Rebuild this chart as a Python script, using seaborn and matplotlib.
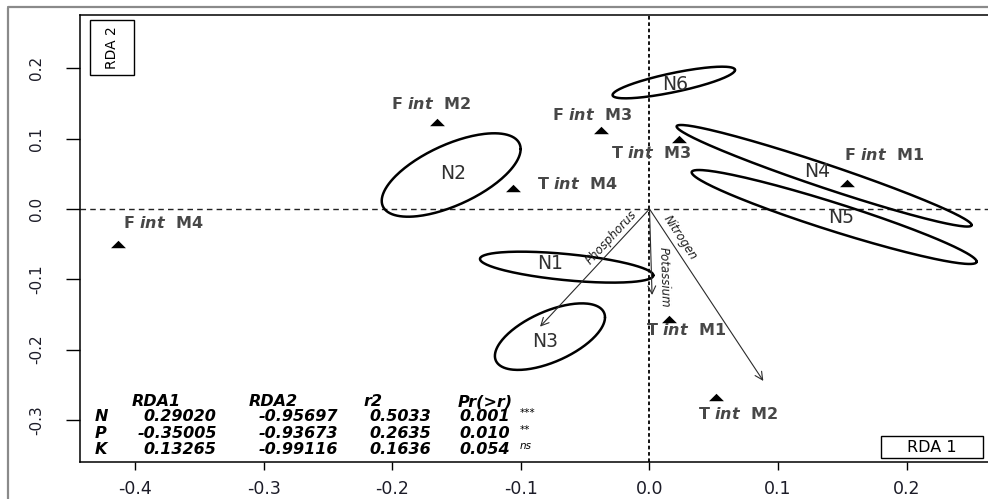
import numpy as np
import matplotlib
matplotlib.use("Agg")
import matplotlib.pyplot as plt
import seaborn as sns
import pandas as pd
from matplotlib.lines import Line2D
from matplotlib.patches import Rectangle

# ---- site scores (triangles) ----
site_factor = ["F", "F", "F", "F", "T", "T", "T", "T"]
site_month = ["M1", "M2", "M3", "M4", "M1", "M2", "M3", "M4"]
site_rda1 = [0.1538, -0.1650, -0.0379, -0.4130, 0.0154, 0.0517, 0.0229, -0.1064]
site_rda2 = [0.0374, 0.1241, 0.1123, -0.0498, -0.1564, -0.2668, 0.0991, 0.0303]

# ---- group ellipses (centre, half-extent on each axis, correlation) ----
groups = ["N1", "N2", "N3", "N4", "N5", "N6"]
ell_cx = [-0.0644, -0.1542, -0.0774, 0.1358, 0.1436, 0.0189]
ell_cy = [-0.0827, 0.0483, -0.1815, 0.0472, -0.0114, 0.1798]
ell_sx = [0.0674, 0.0540, 0.0428, 0.1147, 0.1108, 0.0476]
ell_sy = [0.0220, 0.0593, 0.0473, 0.0722, 0.0668, 0.0225]
ell_r = [-0.53, 0.62, 0.58, -0.97, -0.95, 0.79]

# ---- fitted environmental vectors ----
env_vars = ["Nitrogen", "Phosphorus", "Potassium"]
arrow_x = [0.0885, -0.0851, 0.0020]
arrow_y = [-0.2445, -0.1673, -0.1223]

# ---- envfit table ----
env_short = ["N", "P", "K"]
tab_rda1 = [0.29020, -0.35005, 0.13265]
tab_rda2 = [-0.95697, -0.93673, -0.99116]
tab_r2 = [0.5033, 0.2635, 0.1636]
tab_p = [0.001, 0.010, 0.054]
tab_sig = ["***", "**", "ns"]

x_ticks = [-0.4, -0.3, -0.2, -0.1, 0.0, 0.1, 0.2]
y_ticks = [-0.3, -0.2, -0.1, 0.0, 0.1, 0.2]

# label placement (pixels)
site_label_off = [(37, 28), (-6, 18), (-9, 15), (45, 21), (17, -11), (22, -17), (-28, -14), (65, 4)]
group_label_off = [(-17, 4), (2, 2), (-5, -5), (-7, 4), (7, -1), (1, -2)]
env_label_pos = [(0.166, (12, 0)), (0.242, (-12, 0)), (0.797, (13, 0))]

sns.set_style("ticks")
plt.rcParams["font.family"] = ["DejaVu Sans"]
plt.rcParams["mathtext.fontset"] = "dejavusans"
plt.rcParams["axes.unicode_minus"] = False

fig = plt.figure(figsize=(9.88, 4.99), dpi=100)
W, H = 988.0, 499.0
ax = fig.add_axes([80 / W, 1 - 461.7 / H, 908 / W, 447 / H])

# site triangles
sites = pd.DataFrame({"RDA1": site_rda1, "RDA2": site_rda2})
tri = [(-1, -0.5), (1, -0.5), (0, 0.5)]
sns.scatterplot(data=sites, x="RDA1", y="RDA2", marker=tri, s=115, color="black",
                edgecolor="black", linewidth=0, ax=ax, zorder=4)

ax.set_xlim(-0.4428, 0.2632)
ax.set_ylim(-0.3593, 0.2762)
ax.set_xlabel("")
ax.set_ylabel("")

for s in ["left", "bottom", "top"]:
    ax.spines[s].set_color("black")
    ax.spines[s].set_linewidth(1.1)
ax.spines["right"].set_visible(False)

ax.set_xticks(x_ticks)
ax.set_xticklabels([f"{v:.1f}" for v in x_ticks])
ax.set_yticks(y_ticks)
ax.set_yticklabels([f"{v:.1f}" for v in y_ticks])
ax.tick_params(axis="x", length=6, width=1, pad=7, labelsize=12.5, colors="black", labelcolor="#1c1c28")
ax.tick_params(axis="y", length=10, width=1, pad=16, labelsize=11, colors="black", labelcolor="#1c1c28")
for lab in ax.get_yticklabels():
    lab.set_rotation(90)
    lab.set_va("center")

# origin cross-hairs
ax.axhline(0, color="#222222", lw=1.0, ls=(0, (4, 3)), zorder=1)
ax.axvline(0, color="black", lw=1.3, ls=(0, (2, 1.5)), zorder=1)

for f, m, x, y, off in zip(site_factor, site_month, site_rda1, site_rda2, site_label_off):
    ax.annotate(f"{f} $\\mathbfit{{int}}$  {m}", xy=(x, y), xytext=off,
                textcoords="offset pixels", ha="center", va="center",
                fontsize=11.5, fontweight="bold", color="#474747", zorder=5)

# group ellipses
t = np.linspace(0, 2 * np.pi, 200)
for g, cx, cy, sx, sy, r, off in zip(groups, ell_cx, ell_cy, ell_sx, ell_sy, ell_r, group_label_off):
    cov = np.array([[sx * sx, r * sx * sy], [r * sx * sy, sy * sy]])
    L = np.linalg.cholesky(cov)
    pts = L @ np.vstack([np.cos(t), np.sin(t)])
    ax.plot(cx + pts[0], cy + pts[1], color="black", lw=1.8, zorder=3)
    ax.annotate(g, xy=(cx, cy), xytext=off, textcoords="offset pixels",
                ha="center", va="center", fontsize=13.5, color="#303030", zorder=5)

# environmental arrows
fig.canvas.draw()
for name, ex, ey, (frac, off) in zip(env_vars, arrow_x, arrow_y, env_label_pos):
    ax.annotate("", xy=(ex, ey), xytext=(0, 0),
                arrowprops=dict(arrowstyle="->", color="#2b2b2b", lw=0.8,
                                mutation_scale=14, shrinkA=0, shrinkB=0), zorder=4)
    p0 = ax.transData.transform((0, 0))
    p1 = ax.transData.transform((ex, ey))
    ang = np.degrees(np.arctan2(p1[1] - p0[1], p1[0] - p0[0]))
    if ang < -90.5:
        ang += 180
    elif ang > 90:
        ang -= 180
    ax.annotate(name, xy=(frac * ex, frac * ey), xytext=off, textcoords="offset pixels",
                ha="center", va="center", rotation=ang, rotation_mode="anchor",
                fontsize=8.5, fontstyle="italic", color="#1e1e1e", zorder=5)

# envfit table
tk = dict(transform=ax.transAxes, fontsize=11.5, fontweight="bold", fontstyle="italic",
          color="black", va="center")
hdr_y = 0.134
for txt, xc in zip(["RDA1", "RDA2", "r2", "Pr(>r)"], [0.0835, 0.2129, 0.323, 0.4466]):
    ax.text(xc, hdr_y, txt, ha="center", **tk)
row_y0, row_dy = 0.1007, 0.0369
for i, nm in enumerate(env_short):
    yy = row_y0 - i * row_dy
    ax.text(0.0165, yy, nm, ha="left", **tk)
    ax.text(0.1506, yy, f"{tab_rda1[i]:.5f}", ha="right", **tk)
    ax.text(0.2841, yy, f"{tab_rda2[i]:.5f}", ha="right", **tk)
    ax.text(0.3866, yy, f"{tab_r2[i]:.4f}", ha="right", **tk)
    ax.text(0.4736, yy, f"{tab_p[i]:.3f}", ha="right", **tk)
    ax.text(0.4846, yy + 0.008, tab_sig[i], transform=ax.transAxes, ha="left", va="center",
            fontsize=7.5, fontstyle="italic", color="black")

# axis name boxes
ax.add_patch(Rectangle((10 / 908, 1 - 60 / 447), 44 / 908, 55 / 447, transform=ax.transAxes,
                       fill=False, edgecolor="black", lw=1.0, zorder=5))
ax.text(32 / 908, 1 - 32.5 / 447, "RDA 2", transform=ax.transAxes, rotation=90,
        ha="center", va="center", fontsize=10, color="black")
ax.add_patch(Rectangle((800.7 / 908, 3.4 / 447), 102.6 / 908, 22.6 / 447, transform=ax.transAxes,
                       fill=False, edgecolor="black", lw=1.0, zorder=5))
ax.text(852 / 908, 14.7 / 447, "RDA 1", transform=ax.transAxes,
        ha="center", va="center", fontsize=11.5, color="black")

# page frame
fig.add_artist(Line2D([7.5 / W, 7.5 / W], [0, 1 - 8 / H], transform=fig.transFigure,
                      color="#8a8a8a", lw=1.6))
fig.add_artist(Line2D([7.5 / W, 1], [1 - 7.3 / H, 1 - 7.3 / H], transform=fig.transFigure,
                      color="#8a8a8a", lw=1.6))

fig.savefig("out.png", dpi=100)
